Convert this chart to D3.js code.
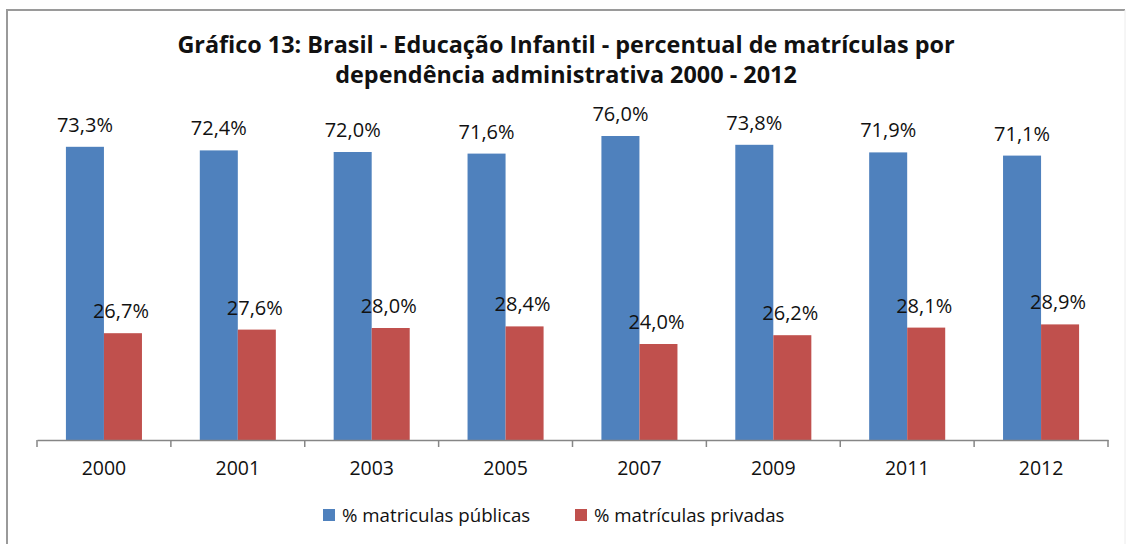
<!DOCTYPE html>
<html>
<head>
<meta charset="utf-8">
<script src="https://cdn.jsdelivr.net/npm/d3@7"></script>
<style>
  html, body { margin: 0; padding: 0; background: #fff; }
  svg { display: block; font-family: "Open Sans", Lato, sans-serif; }
</style>
</head>
<body>
<svg id="chart" width="1130" height="544"></svg>
<script>
const years = ["2000", "2001", "2003", "2005", "2007", "2009", "2011", "2012"];
const publicas = [73.3, 72.4, 72.0, 71.6, 76.0, 73.8, 71.9, 71.1];
const privadas = [26.7, 27.6, 28.0, 28.4, 24.0, 26.2, 28.1, 28.9];
const seriesNames = ["% matriculas públicas", "% matrículas privadas"];
const seriesColors = ["#4F81BD", "#C0504D"];
const titleLines = [
  "Gráfico 13: Brasil - Educação Infantil - percentual de matrículas por",
  "dependência administrativa 2000 - 2012"
];

const fmt = v => v.toFixed(1).replace(".", ",") + "%";
const svg = d3.select("#chart");
const W = 1130, H = 544;
const FONT = "'Open Sans', Lato, sans-serif";

// frame
svg.append("path").attr("d", `M7,${H} L7,10 L1125,10`)
  .attr("fill", "none").attr("stroke", "#9a9a9a").attr("stroke-width", 2);
svg.append("line").attr("x1", 1125).attr("x2", 1125).attr("y1", 10).attr("y2", H)
  .attr("stroke", "#ececec").attr("stroke-width", 1);

// title
svg.append("g").selectAll("text").data(titleLines).join("text")
  .attr("x", 566).attr("y", (d, i) => 53 + i * 30)
  .attr("text-anchor", "middle").attr("font-weight", "bold")
  .attr("font-size", 23.4).attr("fill", "#111").text(d => d);

const x = d3.scaleBand().domain(years).range([37, 1108]).padding(0);
const bw = x.bandwidth();
const x1 = d3.scaleBand().domain([0, 1]).range([bw * 0.216, bw * 0.784]).padding(0);
const y = d3.scaleLinear().domain([0, 80]).range([440, 120]);

const data = years.map((yr, i) => ({ yr, vals: [publicas[i], privadas[i]] }));

const groups = svg.append("g").selectAll("g").data(data).join("g")
  .attr("transform", d => `translate(${x(d.yr)},0)`);

groups.selectAll("rect").data(d => d.vals.map((v, s) => ({ v, s }))).join("rect")
  .attr("x", d => x1(d.s)).attr("width", x1.bandwidth())
  .attr("y", d => y(d.v)).attr("height", d => y(0) - y(d.v))
  .attr("fill", d => seriesColors[d.s]);

groups.selectAll("text.val").data(d => d.vals.map((v, s) => ({ v, s }))).join("text")
  .attr("class", "val")
  .attr("x", d => x1(d.s) + x1.bandwidth() / 2 - (d.s === 1 ? 2 : 0))
  .attr("y", d => y(d.v) - 15)
  .attr("text-anchor", "middle").attr("font-size", 20).attr("fill", "#111")
  .text(d => fmt(d.v));

// axis
const axis = svg.append("g").attr("transform", `translate(0,${y(0)})`)
  .call(d3.axisBottom(x).tickSize(0).tickPadding(21));
axis.select(".domain").attr("stroke", "#868686").attr("stroke-width", 1.5);
axis.selectAll("text").attr("font-size", 19.5).attr("fill", "#111")
  .attr("font-family", FONT);
const bounds = years.map(d => x(d)).concat([x(years[years.length - 1]) + bw]);
axis.selectAll("line.bt").data(bounds).join("line").attr("class", "bt")
  .attr("x1", d => d).attr("x2", d => d).attr("y1", 0).attr("y2", 7)
  .attr("stroke", "#868686").attr("stroke-width", 1.5);

// legend
const legX = [323, 575];
const leg = svg.append("g").selectAll("g").data(seriesNames).join("g")
  .attr("transform", (d, i) => `translate(${legX[i]},509)`);
leg.append("rect").attr("width", 12).attr("height", 12)
  .attr("fill", (d, i) => seriesColors[i]);
leg.append("text").attr("x", 19).attr("y", 6).attr("dy", "0.35em")
  .attr("font-size", 18.7).attr("fill", "#111").text(d => d);
</script>
</body>
</html>
